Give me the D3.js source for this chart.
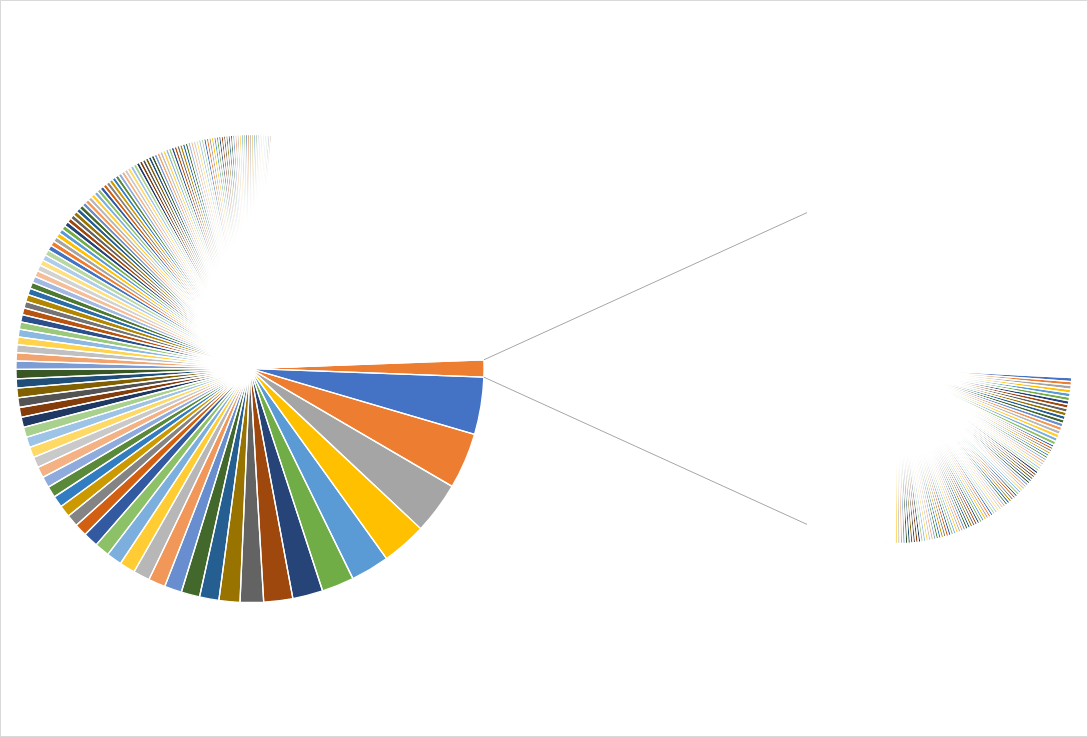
<!DOCTYPE html>
<html><head><meta charset="utf-8">
<script src="https://cdn.jsdelivr.net/npm/d3@7/dist/d3.min.js"></script>
<style>html,body{margin:0;padding:0;background:#fff;}svg{display:block;}</style>
</head><body>
<svg id="chart" width="1088" height="737"></svg>
<script>
// ---- DATA (units: counts; main pie points in order, then the points split into the second pie) ----
const mainValues = [
2840,2780,2580,2220,1920,1600,1500,1440,1160,1040,960,920,860,840,820,780,760,740,740,620,600,590,570,560,
550,540,540,520,520,510,500,490,480,470,460,460,
420,400,400,380,380,360,
360,340,340,340,320,320,
320,300,300,280,280,280,
260,250,240,240,230,230,230,220,
220,216,212,208,204,200,198,196,194,192,190,188,186,184,182,180,178,176,174,172,170,168,166,164,162,160,
158,156,155,153,152,150,149,147,146,144,143,141,140,138,137,135,134,132,131,129,128,126,125,123,122,120,
119,117,116,114,113,111,110,108,107,105,104,102,101,99,98,96,95,93,92,90,89,87,86,84,83,81
];
const mainTail = [
60,60,60,60,60,60,60,60,60,60,60,60,60, 59,59,59,59,59,59,59,59,59,59,59,59,59,
58,58,58,58,58,58,58,58,58,58,58,58,58, 57,57,57,57,57,57,57,57,57,57,57,57,57,
56,56,56,56,56,56,56,56,56,56,56,56,56, 55,55,55,55,55,55,55,55,55,55,55,55,55,
54,54,54,54,54,54,54,54,54,54,54,54,54, 53,53,53,53,53,53,53,53,53,53,53,53,53,
52,52,52,52,52,52,52,52,52,52,52,52,52, 51,51,51,51,51,51,51,51,51,51,51,51,51,
50,50,50,50,50,50,50,50,50,50,50,50,50, 49,49,49,49,49,49,49,49,49,49,49,49,49,
48,48,48,48,48,48,48,48,48,48,48,48,48, 47,47,47,47,47,47,47,47,47,47,47,47,47,
46,46,46,46,46,46,46,46,46,46,46,46,46, 45,45,45,45,45,45,45,45,45,45,45,45,45,
44,44,44,44,44,44,44,44,44,44,44,44,44, 43,43,43,43,43,43,43,43,43,43,43,43,43,
42,42,42,42,42,42,42,42,42,42,42,42,42, 41,41,41,41,41,41,41,41,41,41,41,41,41,
40,40,40,40,40,40,40,40,40,40,40,40,40, 39,39,39,39,39,39,39,39,39,39,39,39,39,
38,38,38,38,38,38,38,38,38,38,38,38,38, 37,37,37,37,37,37,37,37,37,37,37,37,37,
36,36,36,36,36,36,36,36,36,36,36,36,36, 35,35,35,35,35,35,35,35,35,35,35,35,35,
34,34,34,34,34,34,34,34,34,34,34,34,34
];
const secondValues = [
3,3,3,3,3,3,3,3,3,3,3,3,3,3,3,3,3,3,
2,2,2,2,2,2,2,2,2,2,2,2,2,2,2,2,2,2,2,2,2,2,2,2,2,2,2,2,2,2,2,2,2,2,2,2,2,2,2,2,
2,2,2,2,2,2,2,2,2,2,2,2,2,2,2,2,2,2,2,2,2,2,2,2,2,2,2,2,2,2,2,2,2,2,2,2,
1,1,1,1,1,1,1,1,1,1,1,1,1,1,1,1,1,1,1,1,1,1,1,1,1,1,1,1,1,1,1,1,1,1,1,1,1,1,1,1,
1,1,1,1,1,1,1,1,1,1,1,1,1,1,1,1,1,1,1,1,1,1,1,1,1,1,1,1,1,1,1,1,1,1,1,1,1,1,1,1,
1,1,1,1,1,1,1,1,1,1,1,1,1,1,1,1,1,1,1,1,1,1,1,1,1,1,1,1,1,1,1,1,1,1,1,1,1,1,1,1,
1,1,1,1,1,1,1,1,1,1,1,1,1,1,1,1,1,1,1,1,1,1,1,1,1,1,1,1,1,1,1,1,1,1,1,1,1,1,1,1,
1,1,1,1,1,1,1,1,1,1,1,1,1,1,1,1,1,1,1,1,1,1,1,1,1,1,1,1,1,1,1,1,1,1,1,1,1,1,1,1,
1,1,1,1,1,1,1,1,1,1,1,1,1,1,1,1,1,1,1,1,1,1,1,1,1,1,1,1,1,1,1,1,1,1,1,1,1,1,1,1,
1,1,1,1,1,1,1,1,1,1,1,1,1,1,1,1,1,1,1,1,1,1,1,1,1,1,1,1,1,1,1,1,1,1,1,1,1,1,1,1,
1,1,1,1,1,1,1,1,1,1,1,1,1,1,1,1,1,1,1,1,1,1,1,1,1,1,1,1,1,1,1,1,1,1,1,1,1,1,1,1,
1,1,1,1,1,1,1,1,1,1,1,1,1,1,1,1,1,1,1,1,1,1,1,1,1,1,1,1,1,1,1,1,1,1,1,1,1,1,1,1,
1,1,1,1,1,1,1,1,1,1,1,1,1,1,1,1,1,1,1,1,1,1,1,1,1,1,1,1,1,1,1,1,1,1,1,1,1,1,1,1,
1,1,1,1,1,1,1,1,1,1,1,1,1,1,1,1,1,1,1,1,1,1,1,1,1,1,1,1,1,1,1,1,1,1,1,1,1,1,1,1,
1,1,1,1,1,1,1,1,1,1,1,1,1,1,1,1,1,1,1,1,1,1,1,1,1,1,1,1,1,1,1,1,1,1,1,1,1,1,1,1,
1,1,1,1,1,1,1,1,1,1,1,1,1,1,1,1,1,1,1,1,1,1,1,1,1,1,1,1,1,1,1,1,1,1,1,1,1,1,1,1,
1,1,1,1,1,1,1,1,1,1,1,1,1,1,1,1,1,1,1,1,1,1,1,1,1,1,1,1,1,1,1,1,1,1,1,1,1,1,1,1,
1,1,1,1,1,1,1,1,1,1,1,1,1,1,1,1,1,1,1,1,1,1,1,1,1,1,1,1,1,1,1,1,1,1,1,1,1,1,1,1,
1,1,1,1,1,1,1,1,1,1,1,1,1,1,1,1,1,1,1,1,1,1,1,1,1,1,1,1,1,1,1,1,1,1,1,1,1,1,1,1
];

// ---- STYLE ----
const accents = ["#4472C4","#ED7D31","#A5A5A5","#FFC000","#5B9BD5","#70AD47"];
const variations = [[1,0],[0.6,0],[0.8,0.2],[0.8,0],[0.6,0.4],[0.5,0],[0.7,0.3],[0.7,0],[0.5,0.5]];
const palette = variations.flatMap(([m,o]) => accents.map(c => { const h = d3.hsl(c); h.l = h.l*m + o; return h.formatHex(); }));
const otherColor = "#ED7D31";

const W = 1088, H = 737;
const main = {cx: 250, cy: 368.5, r: 234, stroke: 1.3};
const sec = {cx: 897, cy: 368.5, r: 175, stroke: 1.3};
const secRotationDeg = 3;

const svg = d3.select("#chart");
svg.append("rect").attr("x",0.5).attr("y",0.5).attr("width",W-1).attr("height",H-1)
  .attr("fill","#fff").attr("stroke","#D9D9D9");

function drawPie(arcs, p) {
  const arc = d3.arc().innerRadius(0).outerRadius(p.r);
  const g = svg.append("g").attr("transform",`translate(${p.cx},${p.cy})`);
  // fills first, then all white slice borders on top
  g.append("g").selectAll("path").data(arcs).join("path")
    .attr("d", arc).attr("fill", d => d.data.c);
  g.append("g").selectAll("path").data(arcs).join("path")
    .attr("d", arc).attr("fill", "none")
    .attr("stroke","#fff").attr("stroke-width",p.stroke).attr("stroke-linejoin","round");
}

// main pie
const otherValue = d3.sum(secondValues);
const mainData = mainValues.concat(mainTail).map((v,i) => ({v, c: palette[i % palette.length]}));
mainData.push({v: otherValue, c: otherColor, other: true});
const total = d3.sum(mainData, d => d.v);
const otherAngle = 2*Math.PI*otherValue/total;
const start = Math.PI/2 + otherAngle/2;
const mainArcs = d3.pie().value(d => d.v).sort(null).startAngle(start).endAngle(start + 2*Math.PI)(mainData);
drawPie(mainArcs, main);

// second pie
const secData = secondValues.map((v,i) => ({v, c: palette[i % palette.length]}));
const s2 = Math.PI/2 + secRotationDeg*Math.PI/180;
const secArcs = d3.pie().value(d => d.v).sort(null).startAngle(s2).endAngle(s2 + 2*Math.PI)(secData);
drawPie(secArcs, sec);

// series lines from the Other slice to the second pie
const otherArc = mainArcs[mainArcs.length-1];
const pt = (c, r, a) => [c.cx + r*Math.sin(a), c.cy - r*Math.cos(a)];
const lineR = sec.r + 5;
const lines = [
  [pt(main, main.r, otherArc.startAngle), pt(sec, lineR, -Math.PI/6)],
  [pt(main, main.r, otherArc.endAngle), pt(sec, lineR, Math.PI + Math.PI/6)]
];
svg.append("g").selectAll("line").data(lines).join("line")
  .attr("x1", d => d[0][0]).attr("y1", d => d[0][1])
  .attr("x2", d => d[1][0]).attr("y2", d => d[1][1])
  .attr("stroke","#A6A6A6").attr("stroke-width",1);
</script>
</body></html>
